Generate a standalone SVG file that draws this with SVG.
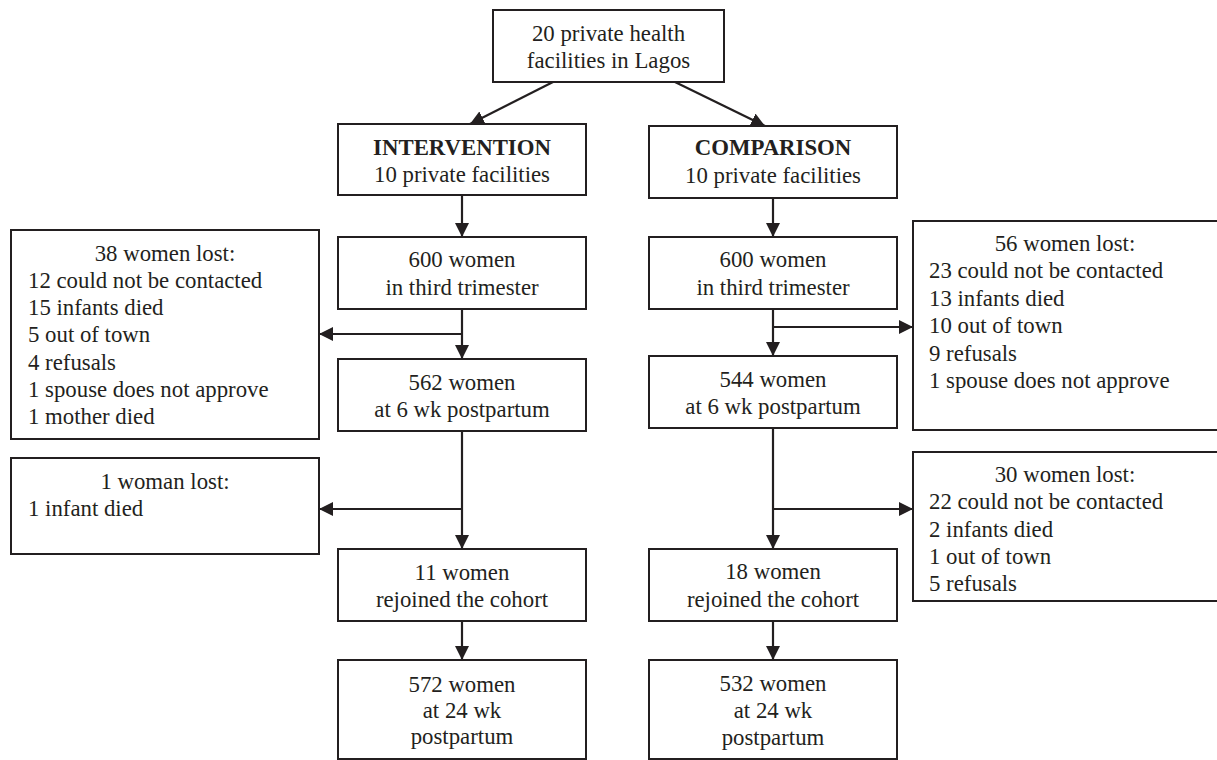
<svg xmlns="http://www.w3.org/2000/svg" width="1217" height="760" viewBox="0 0 1217 760">
<style>
rect.box{fill:#fff;stroke:#231f20;stroke-width:2}
text{font-family:"Liberation Serif","Times New Roman",serif;font-size:22.8px;fill:#231f20}
.c{text-anchor:middle}
.b{font-weight:bold}
.conn line,.conn polyline{stroke:#231f20;stroke-width:2.2;fill:none}
</style>
<defs>
<marker id="ah" markerUnits="userSpaceOnUse" markerWidth="14" markerHeight="14" refX="14" refY="7" orient="auto">
<path d="M0,0 L14,7 L0,14 z" fill="#231f20"/>
</marker>
</defs>
<rect width="1217" height="760" fill="#fff"/>

<g class="conn">
<line x1="553" y1="82" x2="470" y2="124" marker-end="url(#ah)"/>
<line x1="675" y1="82" x2="765" y2="126" marker-end="url(#ah)"/>
<line x1="462" y1="195" x2="462" y2="237" marker-end="url(#ah)"/>
<line x1="462" y1="309" x2="462" y2="359" marker-end="url(#ah)"/>
<line x1="462" y1="334" x2="319" y2="334" marker-end="url(#ah)"/>
<line x1="462" y1="431" x2="462" y2="549" marker-end="url(#ah)"/>
<line x1="462" y1="509" x2="319" y2="509" marker-end="url(#ah)"/>
<line x1="462" y1="621" x2="462" y2="660" marker-end="url(#ah)"/>
<line x1="773" y1="198" x2="773" y2="237" marker-end="url(#ah)"/>
<line x1="773" y1="309" x2="773" y2="356" marker-end="url(#ah)"/>
<line x1="773" y1="327" x2="913" y2="327" marker-end="url(#ah)"/>
<line x1="773" y1="428" x2="773" y2="549" marker-end="url(#ah)"/>
<line x1="773" y1="509" x2="913" y2="509" marker-end="url(#ah)"/>
<line x1="773" y1="621" x2="773" y2="660" marker-end="url(#ah)"/>
</g>

<g id="top">
<rect class="box" x="493" y="10" width="231" height="72"/>
<text class="c" x="608.5" y="41">20 private health</text>
<text class="c" x="608.5" y="68">facilities in Lagos</text>
</g>

<g id="intervention">
<rect class="box" x="338" y="124" width="248" height="71"/>
<text class="c b" x="462" y="155">INTERVENTION</text>
<text class="c" x="462" y="182">10 private facilities</text>
</g>

<g id="comparison">
<rect class="box" x="649" y="126" width="248" height="72"/>
<text class="c b" x="773" y="155">COMPARISON</text>
<text class="c" x="773" y="183">10 private facilities</text>
</g>

<g id="int600">
<rect class="box" x="338" y="237" width="248" height="72"/>
<text class="c" x="462" y="267">600 women</text>
<text class="c" x="462" y="295">in third trimester</text>
</g>

<g id="cmp600">
<rect class="box" x="649" y="237" width="248" height="72"/>
<text class="c" x="773" y="267">600 women</text>
<text class="c" x="773" y="295">in third trimester</text>
</g>

<g id="intLost1">
<rect class="box" x="11" y="230" width="308" height="209"/>
<text class="c" x="165" y="261">38 women lost:</text>
<text x="28" y="288">12 could not be contacted</text>
<text x="28" y="315">15 infants died</text>
<text x="28" y="342">5 out of town</text>
<text x="28" y="370">4 refusals</text>
<text x="28" y="397">1 spouse does not approve</text>
<text x="28" y="424">1 mother died</text>
</g>

<g id="cmpLost1">
<rect class="box" x="913" y="221" width="306" height="209"/>
<text class="c" x="1065" y="251">56 women lost:</text>
<text x="929" y="278">23 could not be contacted</text>
<text x="929" y="306">13 infants died</text>
<text x="929" y="333">10 out of town</text>
<text x="929" y="361">9 refusals</text>
<text x="929" y="388">1 spouse does not approve</text>
</g>

<g id="int562">
<rect class="box" x="338" y="359" width="248" height="72"/>
<text class="c" x="462" y="390">562 women</text>
<text class="c" x="462" y="417">at 6 wk postpartum</text>
</g>

<g id="cmp544">
<rect class="box" x="649" y="356" width="248" height="72"/>
<text class="c" x="773" y="387">544 women</text>
<text class="c" x="773" y="414">at 6 wk postpartum</text>
</g>

<g id="intLost2">
<rect class="box" x="11" y="458" width="308" height="96"/>
<text class="c" x="165" y="489">1 woman lost:</text>
<text x="28" y="516">1 infant died</text>
</g>

<g id="cmpLost2">
<rect class="box" x="913" y="452" width="306" height="149"/>
<text class="c" x="1065" y="482">30 women lost:</text>
<text x="929" y="509">22 could not be contacted</text>
<text x="929" y="537">2 infants died</text>
<text x="929" y="564">1 out of town</text>
<text x="929" y="591">5 refusals</text>
</g>

<g id="int11">
<rect class="box" x="338" y="549" width="248" height="72"/>
<text class="c" x="462" y="580">11 women</text>
<text class="c" x="462" y="607">rejoined the cohort</text>
</g>

<g id="cmp18">
<rect class="box" x="649" y="549" width="248" height="72"/>
<text class="c" x="773" y="579">18 women</text>
<text class="c" x="773" y="607">rejoined the cohort</text>
</g>

<g id="int572">
<rect class="box" x="338" y="660" width="248" height="99"/>
<text class="c" x="462" y="692">572 women</text>
<text class="c" x="462" y="718">at 24 wk</text>
<text class="c" x="462" y="744">postpartum</text>
</g>

<g id="cmp532">
<rect class="box" x="649" y="660" width="248" height="99"/>
<text class="c" x="773" y="691">532 women</text>
<text class="c" x="773" y="718">at 24 wk</text>
<text class="c" x="773" y="745">postpartum</text>
</g>
</svg>
